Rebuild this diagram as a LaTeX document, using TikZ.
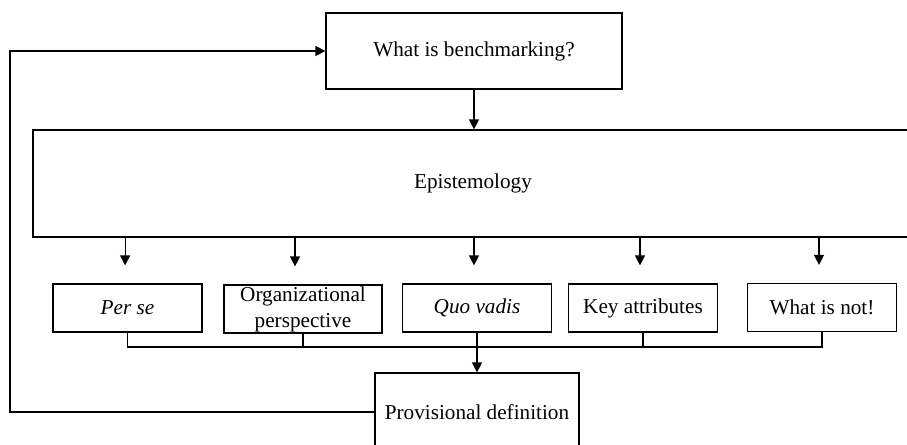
\documentclass[tikz,border=0pt]{standalone}
\usepackage{fontspec}
\setmainfont{Liberation Serif}
\usetikzlibrary{calc,arrows.meta}

\begin{document}
\begin{tikzpicture}[x=0.5pt,y=-0.5pt,
    box/.style={draw,line width=0.6pt,inner sep=0pt,align=center,
      font=\fontsize{10.6}{13}\selectfont},
    smallbox/.style={box,minimum width=74.5pt,minimum height=24pt},
    arr/.style={-{Triangle[length=5pt,width=5pt]},line width=0.6pt},
    link/.style={line width=0.6pt}]
      \useasboundingbox (0,0) rectangle (907,445);
      \clip (0,0) rectangle (907,445);
      % boxes
      \node[box,minimum width=148pt,minimum height=38pt] (bench) at (474,51)
            {What is benchmarking?};
      \node[box,minimum width=440pt,minimum height=53.5pt] (epist) at (473,183.5)
            {Epistemology};
      \node[smallbox] (perse) at (127.5,308) {\itshape Per se};
      \node[smallbox,minimum width=79pt] (org) at (303,309)
            {\raisebox{-2pt}{Organizational}\\\raisebox{-2pt}{perspective}};
      \node[smallbox] (quo) at (477,308) {\itshape Quo vadis};
      \node[smallbox] (key) at (643,308) {Key attributes};
      \node[smallbox] (not) at (822,307.5) {What is not!};
      \node[box,minimum width=102pt,minimum height=39pt] (prov) at (477,412)
            {Provisional definition};
      % arrows from the epistemology box
      \draw[arr] (bench.south) -- (bench.south |- epist.north);
      \foreach \n/\d in {perse/-1.2pt,org/-4pt,quo/-1.5pt,key/-1.5pt,not/-1.5pt}
        \draw[arr] ([xshift=\d]\n.north |- epist.south) -- ([xshift=\d,yshift=9pt]\n.north);
      % joining the five boxes
      \coordinate (bus) at (477,347);
      \foreach \n in {perse,org,key,not}
        \draw[link] (\n.south) |- (bus);
      \draw[arr] (quo.south) -- (prov.north);
      % back to the question
      \coordinate (loop) at (10,412);
      \draw[arr] (prov.west) -- (loop) |- (bench.west);
    \end{tikzpicture}
\end{document}
